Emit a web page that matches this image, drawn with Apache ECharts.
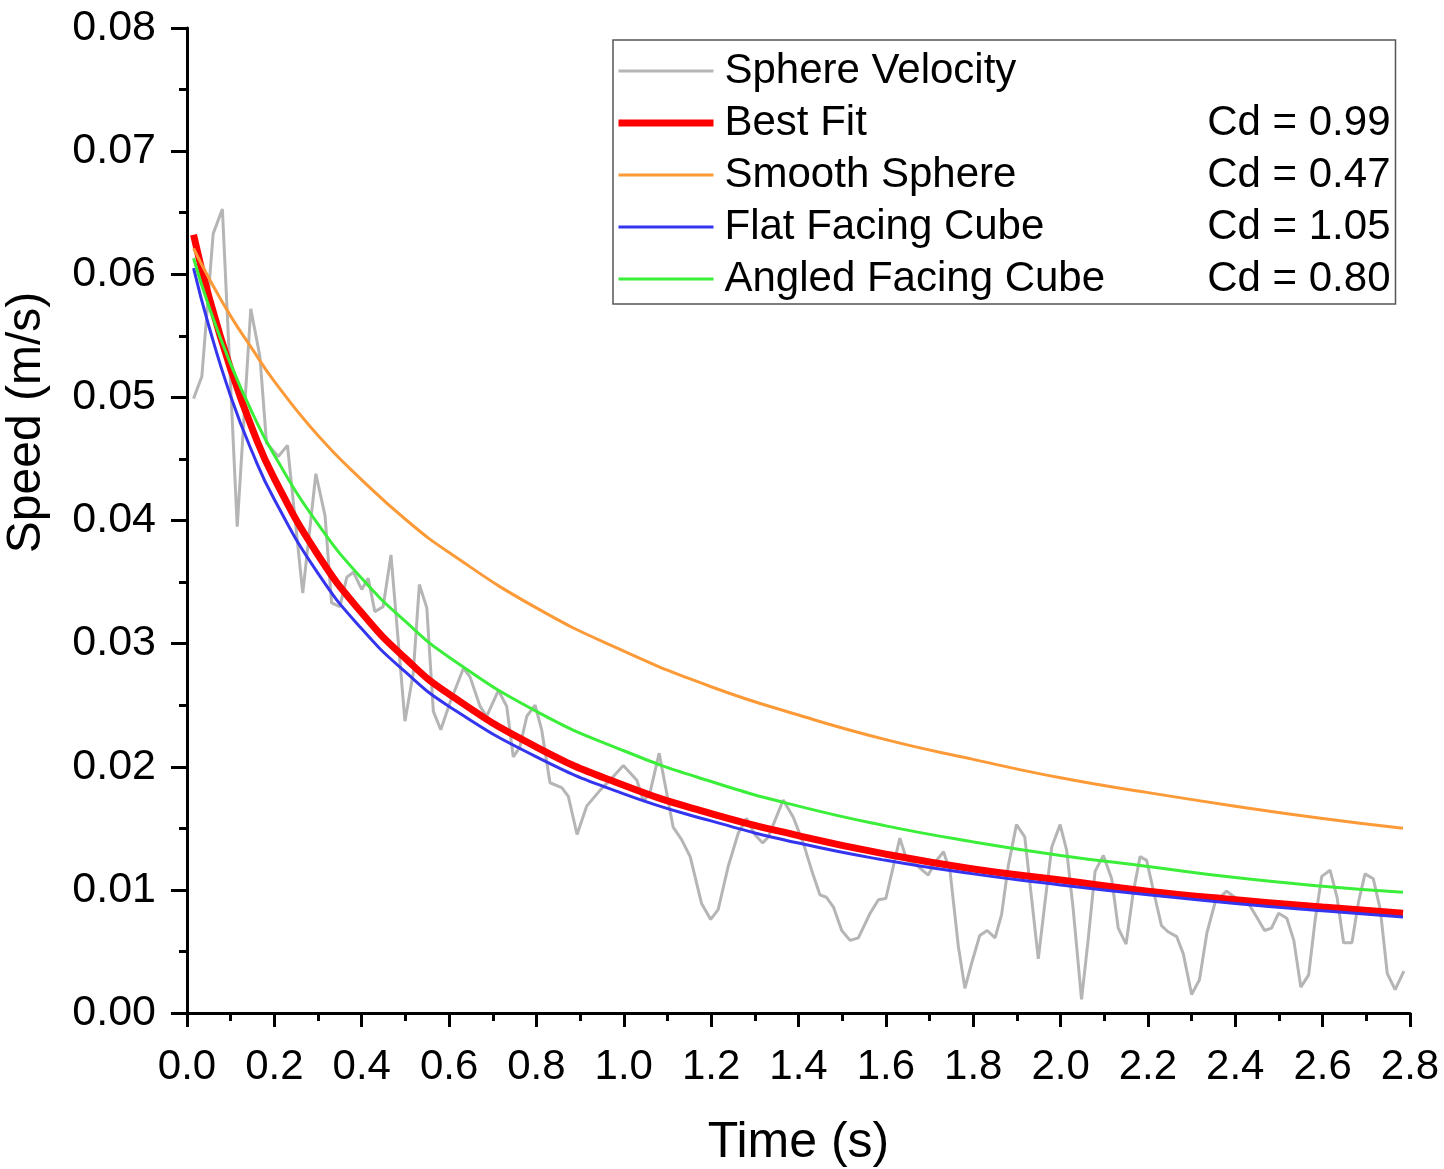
<!DOCTYPE html>
<html>
<head>
<meta charset="utf-8">
<script src="https://cdn.jsdelivr.net/npm/echarts@6/dist/echarts.min.js"></script>
<style>
  html, body { margin: 0; padding: 0; background: #fff; }
  #main { width: 1444px; height: 1169px; }
</style>
</head>
<body>
<div id="main"></div>
<script>
// 测得的球体速度 [时间 s, 速度 m/s]
var sphereVelocity = [
  [0.015,0.0499],[0.034,0.0517],[0.060,0.0633],[0.081,0.0653],[0.115,0.0395],[0.146,0.0572],
  [0.167,0.0533],[0.182,0.0463],[0.209,0.0452],[0.230,0.0461],[0.265,0.0341],[0.295,0.0438],
  [0.316,0.0404],[0.331,0.0333],[0.350,0.0330],[0.366,0.0354],[0.381,0.0358],[0.400,0.0344],
  [0.415,0.0353],[0.430,0.0326],[0.449,0.0330],[0.467,0.0372],[0.499,0.0237],[0.518,0.0276],
  [0.532,0.0348],[0.549,0.0329],[0.564,0.0245],[0.581,0.0230],[0.602,0.0252],[0.633,0.0280],
  [0.648,0.0273],[0.671,0.0249],[0.686,0.0241],[0.713,0.0262],[0.732,0.0249],[0.747,0.0208],
  [0.762,0.0216],[0.778,0.0241],[0.797,0.0250],[0.812,0.0230],[0.831,0.0187],[0.858,0.0183],
  [0.873,0.0176],[0.893,0.0145],[0.915,0.0168],[0.946,0.0181],[0.976,0.0192],[0.999,0.0201],
  [1.030,0.0189],[1.045,0.0172],[1.060,0.0179],[1.081,0.0211],[1.113,0.0151],[1.132,0.0141],
  [1.152,0.0127],[1.178,0.0089],[1.199,0.0076],[1.216,0.0084],[1.239,0.0119],[1.262,0.0146],
  [1.281,0.0158],[1.300,0.0145],[1.318,0.0138],[1.331,0.0143],[1.365,0.0173],[1.388,0.0159],
  [1.411,0.0138],[1.430,0.0116],[1.449,0.0096],[1.464,0.0094],[1.480,0.0086],[1.499,0.0067],
  [1.518,0.0059],[1.537,0.0061],[1.564,0.0081],[1.583,0.0092],[1.600,0.0093],[1.617,0.0119],
  [1.632,0.0142],[1.648,0.0124],[1.664,0.0122],[1.697,0.0112],[1.712,0.0122],[1.732,0.0131],
  [1.747,0.0115],[1.766,0.0054],[1.781,0.0020],[1.796,0.0040],[1.815,0.0063],[1.832,0.0067],
  [1.850,0.0061],[1.865,0.0080],[1.880,0.0119],[1.899,0.0153],[1.918,0.0143],[1.934,0.0092],
  [1.949,0.0044],[1.964,0.0089],[1.980,0.0135],[1.999,0.0153],[2.014,0.0132],[2.029,0.0084],
  [2.048,0.0011],[2.063,0.0059],[2.079,0.0115],[2.098,0.0128],[2.117,0.0109],[2.132,0.0069],
  [2.150,0.0056],[2.166,0.0097],[2.182,0.0127],[2.197,0.0124],[2.216,0.0094],[2.231,0.0071],
  [2.246,0.0066],[2.266,0.0062],[2.281,0.0048],[2.300,0.0015],[2.318,0.0027],[2.335,0.0065],
  [2.354,0.0090],[2.380,0.0099],[2.399,0.0094],[2.430,0.0089],[2.449,0.0078],[2.467,0.0067],
  [2.483,0.0069],[2.499,0.0081],[2.518,0.0077],[2.534,0.0059],[2.550,0.0021],[2.568,0.0031],
  [2.583,0.0076],[2.598,0.0111],[2.617,0.0116],[2.633,0.0094],[2.648,0.0057],[2.667,0.0057],
  [2.682,0.0090],[2.697,0.0113],[2.716,0.0109],[2.732,0.0084],[2.748,0.0032],[2.766,0.0019],
  [2.786,0.0034]
];

// 拟合曲线的取样时间
var curveTimes = [0.015, 0.05, 0.1, 0.15, 0.2, 0.3, 0.4, 0.5, 0.6, 0.8, 1.0, 1.2, 1.4, 1.6, 1.8, 2.0, 2.2, 2.4, 2.6, 2.784];
var bestFit = [0.0632, 0.0582, 0.0523, 0.0474, 0.0434, 0.0372, 0.0325, 0.0288, 0.0259, 0.0216, 0.0185, 0.0162, 0.0144, 0.0129, 0.0117, 0.0108, 0.0099, 0.0092, 0.0086, 0.0081];
var smoothSphere = [0.0621, 0.0597, 0.0566, 0.0539, 0.0513, 0.0469, 0.0433, 0.0401, 0.0374, 0.0329, 0.0294, 0.0265, 0.0242, 0.0222, 0.0206, 0.0191, 0.0179, 0.0168, 0.0158, 0.0150];
var flatCube = [0.0605, 0.0558, 0.0501, 0.0455, 0.0417, 0.0357, 0.0312, 0.0277, 0.0249, 0.0208, 0.0178, 0.0156, 0.0138, 0.0124, 0.0113, 0.0104, 0.0096, 0.0089, 0.0083, 0.0078];
var angledCube = [0.0613, 0.0574, 0.0527, 0.0487, 0.0453, 0.0397, 0.0353, 0.0318, 0.0289, 0.0245, 0.0213, 0.0188, 0.0168, 0.0152, 0.0139, 0.0128, 0.0119, 0.0110, 0.0103, 0.0098];

var seriesNames = ['Sphere Velocity', 'Best Fit', 'Smooth Sphere', 'Flat Facing Cube', 'Angled Facing Cube'];
var cdLabels = ['', 'Cd = 0.99', 'Cd = 0.47', 'Cd = 1.05', 'Cd = 0.80'];
var lineColors = ['#b5b5b5', '#ff0000', '#fc9a38', '#3535f0', '#3aee3a'];
var lineWidths = [3, 7, 3, 3, 3];

var xTicks = { min: 0, max: 2.8, interval: 0.2 };
var yTicks = { min: 0, max: 0.08, interval: 0.01 };

function pair(times, vals) {
  return times.map(function (t, i) { return [t, vals[i]]; });
}

function lineSeries(i, data, smooth) {
  return {
    name: seriesNames[i], type: 'line', data: data, symbol: 'none', smooth: smooth,
    lineStyle: { color: lineColors[i], width: lineWidths[i] },
    itemStyle: { color: lineColors[i] }
  };
}

var font = 'Liberation Sans, Arial, sans-serif';
var myChart = echarts.init(document.getElementById('main'));

var option = {
  backgroundColor: '#ffffff',
  animation: false,
  textStyle: { fontFamily: font },
  grid: { left: 187, right: 34, top: 28, bottom: 156, containLabel: false, outerBoundsMode: 'none' },
  legend: {
    orient: 'vertical',
    left: 613,
    top: 40,
    padding: [10, 5, 4, 2],
    itemGap: 10,
    itemWidth: 95,
    itemHeight: 20,
    selectedMode: false,
    borderColor: '#555555',
    borderWidth: 1.5,
    itemStyle: { opacity: 0 },
    data: seriesNames.map(function (n, i) {
      return { name: n, lineStyle: { width: lineWidths[i], color: lineColors[i] } };
    }),
    formatter: function (name) {
      var i = seriesNames.indexOf(name);
      return '{a|' + name + '}{b|' + cdLabels[i] + '}';
    },
    textStyle: {
      color: '#000',
      fontFamily: font,
      fontSize: 42,
      padding: [0, 0, 0, 6],
      rich: {
        a: { width: 484, fontSize: 42, color: '#000' },
        b: { width: 182, fontSize: 42, align: 'right', color: '#000' }
      }
    }
  },
  xAxis: {
    type: 'value',
    min: xTicks.min,
    max: xTicks.max,
    interval: xTicks.interval,
    name: 'Time (s)',
    nameLocation: 'middle',
    nameGap: 105,
    nameTextStyle: { fontSize: 50, color: '#000', fontFamily: font },
    splitLine: { show: false },
    axisLine: { lineStyle: { color: '#000', width: 3 } },
    axisTick: { inside: false, length: 14, lineStyle: { color: '#000', width: 3 } },
    minorTick: { show: true, splitNumber: 2, length: 8, lineStyle: { color: '#000', width: 3 } },
    axisLabel: {
      margin: 33, fontSize: 42, color: '#000', fontFamily: font,
      formatter: function (v) { return v.toFixed(1); }
    }
  },
  yAxis: {
    type: 'value',
    min: yTicks.min,
    max: yTicks.max,
    interval: yTicks.interval,
    name: 'Speed (m/s)',
    nameLocation: 'middle',
    nameGap: 136,
    nameTextStyle: { fontSize: 48, color: '#000', fontFamily: font, padding: [0, 0, 0, 196] },
    splitLine: { show: false },
    axisLine: { lineStyle: { color: '#000', width: 3 } },
    axisTick: { inside: false, length: 16, lineStyle: { color: '#000', width: 3 } },
    minorTick: { show: true, splitNumber: 2, length: 8, lineStyle: { color: '#000', width: 3 } },
    axisLabel: {
      margin: 31, fontSize: 43, color: '#000', fontFamily: font,
      formatter: function (v) { return v.toFixed(2); }
    }
  },
  series: [
    lineSeries(0, sphereVelocity, false),
    lineSeries(1, pair(curveTimes, bestFit), true),
    lineSeries(2, pair(curveTimes, smoothSphere), true),
    lineSeries(3, pair(curveTimes, flatCube), true),
    lineSeries(4, pair(curveTimes, angledCube), true)
  ]
};

myChart.setOption(option);
</script>
</body>
</html>
